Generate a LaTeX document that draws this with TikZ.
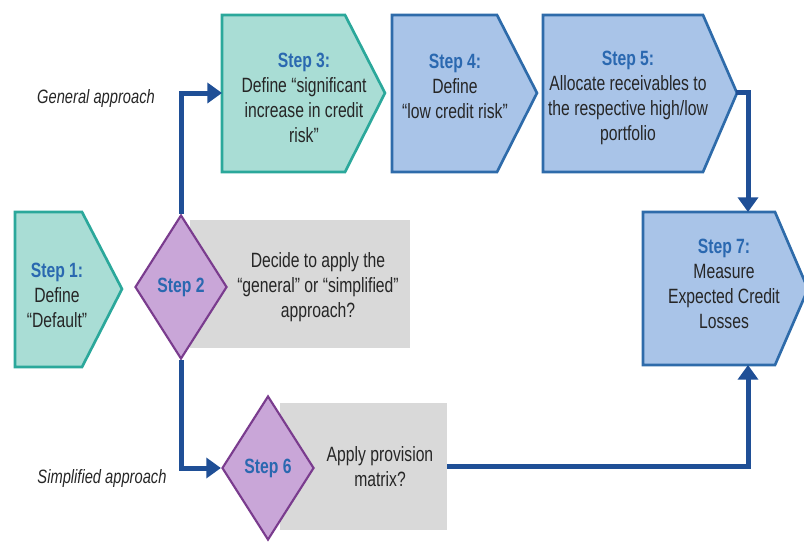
\documentclass[tikz,border=0pt]{standalone}
\usepackage{fontspec}
\setmainfont{Liberation Sans}[FakeStretch=0.76]
\usetikzlibrary{shapes.geometric,arrows.meta}
\definecolor{tealF}{HTML}{A9DDD5}
\definecolor{tealD}{HTML}{2BA89B}
\definecolor{blueF}{HTML}{A9C4E8}
\definecolor{blueD}{HTML}{2E6BAA}
\definecolor{purpF}{HTML}{C9A6D8}
\definecolor{purpD}{HTML}{7A3C8E}
\definecolor{greyF}{HTML}{D9D9D9}
\definecolor{arrowC}{HTML}{1F4F96}
\definecolor{titleC}{HTML}{2A68B0}
\definecolor{textC}{HTML}{262626}
\newcommand\steptitle[1]{\textcolor{titleC}{\bfseries #1}}
\tikzset{
  tealshape/.style={fill=tealF, draw=tealD, line width=2pt, line join=miter},
  blueshape/.style={fill=blueF, draw=blueD, line width=2pt, line join=miter},
  dia/.style={diamond, fill=purpF, draw=purpD, line width=1.6pt, inner sep=0pt,
    minimum width=69pt, minimum height=108pt, font=\fontsize{15.5}{18.75}\selectfont\bfseries, text=titleC},
  greyrect/.style={rectangle, fill=greyF, draw=none, inner sep=0pt},
  txt/.style={align=center, text=textC, font=\fontsize{15.5}{18.75}\selectfont, inner sep=0pt},
  lbl/.style={text=textC, font=\fontsize{14.5}{16}\selectfont\itshape, inner sep=0pt},
  conn/.style={draw=arrowC, line width=3.75pt, -{Triangle[length=11pt,width=15pt]}},
}
\begin{document}
\begin{tikzpicture}[x=0.75pt,y=-0.75pt]
\useasboundingbox (0,0) rectangle (804,544);

% grey rectangles
\node[greyrect, minimum width=165pt, minimum height=96pt] (g2) at (300,284) {};
\node[greyrect, minimum width=125.25pt, minimum height=95.25pt] (g6) at (363.5,466.5) {};

% step shapes
\draw[tealshape] (15,212) -- (82,212) -- (122,289) -- (82,367) -- (15,367) -- cycle;
\coordinate (s1tip) at (122,289);
\draw[tealshape] (222,15) -- (345,15) -- (385,93) -- (345,172) -- (222,172) -- cycle;
\coordinate (s3w) at (222,93);
\draw[blueshape] (392,15) -- (497,15) -- (537,93) -- (497,172) -- (392,172) -- cycle;
\draw[blueshape] (543,15) -- (703,15) -- (737,93) -- (703,172) -- (543,172) -- cycle;
\coordinate (s5tip) at (736,92);
\draw[blueshape] (643,212) -- (775,212) -- (808,289) -- (775,365) -- (643,365) -- cycle;
\coordinate (s7n) at (748,212);
\coordinate (s7s) at (748,365);

% diamonds
\node[dia] (d2) at (181,287) {Step 2};
\node[dia] (d6) at (268,468) {Step 6};

% texts
\node[txt] (t1) at (57,295) {\steptitle{Step 1:}\\Define\\“Default”};
\node[txt] (t3) at (304,98) {\steptitle{Step 3:}\\Define “significant\\increase in credit\\risk”};
\node[txt] (t4) at (455,86) {\steptitle{Step 4:}\\Define\\“low credit risk”};
\node[txt] (t5) at (628,98) {\steptitle{Step 5:}\\Allocate receivables to\\the respective high/low\\portfolio};
\node[txt] (t7) at (724,284) {\steptitle{Step 7:}\\Measure\\Expected Credit\\Losses};
\node[txt] (t2) at (318,287) {Decide to apply the\\“general” or “simplified”\\approach?};
\node[txt] (t6) at (380,467) {Apply provision\\matrix?};

\node[lbl] (la) at (96,98) {General approach};
\node[lbl] (lb) at (102,478) {Simplified approach};

% connectors
\draw[conn] (d2.north) |- (s3w);
\draw[conn] (d2.south) |- (d6.west);
\draw[conn] (s5tip) -| (s7n);
\draw[conn] (g6.east) -| (s7s);
\end{tikzpicture}
\end{document}
